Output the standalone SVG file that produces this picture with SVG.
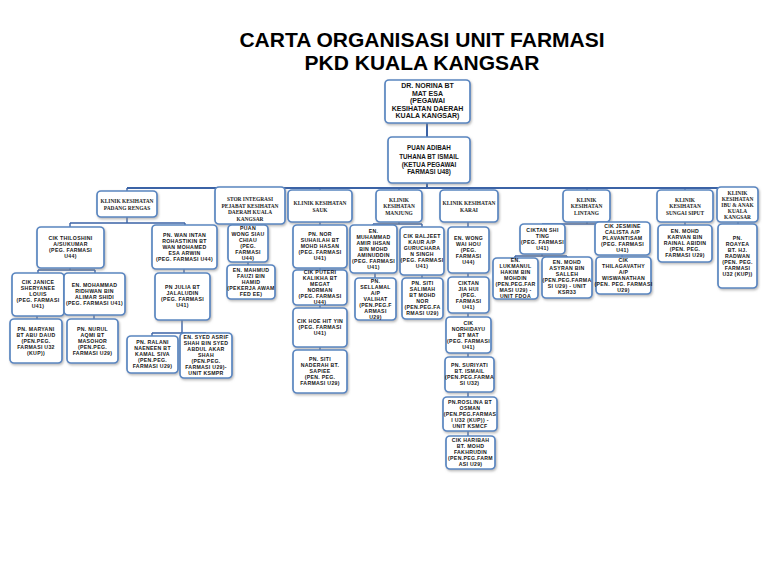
<svg xmlns="http://www.w3.org/2000/svg" width="768" height="576" viewBox="0 0 768 576">
<style>
.box{fill:#fff;stroke:#5a86c0;stroke-width:1.7;filter:url(#sh)}
.t{font-family:"Liberation Sans",Arial,sans-serif;font-weight:bold;font-size:5.2px;letter-spacing:0.3px;text-anchor:middle;fill:#151515}
.h{font-family:"Liberation Serif","Times New Roman",serif;font-weight:bold;font-size:5.4px;text-anchor:middle;fill:#222}
.top{font-family:"Liberation Sans",Arial,sans-serif;font-weight:bold;text-anchor:middle;fill:#151515}
.title{font-family:"Liberation Sans",Arial,sans-serif;font-weight:bold;font-size:21px;text-anchor:middle;fill:#000}
.c{stroke:#3b63a6;stroke-width:1.4;fill:none}
.bar{stroke:#3b63a6;stroke-width:2;fill:none}
</style>
<defs>
<filter id="sh" x="-10%" y="-10%" width="130%" height="130%">
<feDropShadow dx="1" dy="1.5" stdDeviation="0.8" flood-color="#888" flood-opacity="0.6"/>
</filter>
</defs>
<rect width="768" height="576" fill="#fff"/>
<text class="title" x="422" y="47">CARTA ORGANISASI UNIT FARMASI</text>
<text class="title" x="422" y="70">PKD KUALA KANGSAR</text>

<g id="connectors">
<path class="bar" d="M427,123V137M427,183V188M127,188H738"/>
<path class="c" d="M127,188V191M250,188V187M320,188V190M399,188V190M469,188V190M587,188V190M685,188V190M738,188V189"/>
<path class="c" d="M127,217V223M70,223H185M70,223V227M185,223V225"/>
<path class="c" d="M70,268V270M38,270H95M38,270V273M95,270V273M37,316V319M94,315V319"/>
<path class="c" d="M184,269V273M182,320V333M152,333H206M152,333V336M206,333V333"/>
<path class="c" d="M250,224V225M248,262V265"/>
<path class="c" d="M320,222V225M320,268V270M320,305V308M320,347V350"/>
<path class="c" d="M399,222V224M373,224H422M373,224V225M422,224V227M375,273V278M422,275V278"/>
<path class="c" d="M468,222V436"/>
<path class="c" d="M587,222V224M542,224H622M542,224V224M622,224V222M542,254V256M515,256H567M515,256V258M567,256V257M622,255V257"/>
<path class="c" d="M685,222V225M738,222V224"/>
</g>

<g id="norina"><rect class="box" x="385" y="80" width="85" height="43" rx="4"/>
<text class="top" font-size="7" x="427.5" y="88"><tspan x="427.5">DR. NORINA BT</tspan><tspan x="427.5" dy="7.5">MAT ESA</tspan><tspan x="427.5" dy="7.5">(PEGAWAI</tspan><tspan x="427.5" dy="7.5">KESIHATAN DAERAH</tspan><tspan x="427.5" dy="7.5">KUALA KANGSAR)</tspan></text></g>

<g id="adibah"><rect class="box" x="388" y="137" width="82" height="46" rx="4"/>
<text class="top" font-size="6.3" x="429" y="150"><tspan x="429">PUAN ADIBAH</tspan><tspan x="429" dy="8.5">TUHANA BT ISMAIL</tspan><tspan x="429" dy="8.5">(KETUA PEGAWAI</tspan><tspan x="429" dy="7">FARMASI U48)</tspan></text></g>

<g id="h-padang"><rect class="box" x="97" y="191" width="60" height="26" rx="4"/>
<text class="h" x="127" y="203"><tspan x="127">KLINIK KESIHATAN</tspan><tspan x="127" dy="7">PADANG RENGAS</tspan></text></g>
<g id="h-stor"><rect class="box" x="215" y="187" width="70" height="37" rx="4"/>
<text class="h" x="250" y="201"><tspan x="250">STOR INTEGRASI</tspan><tspan x="250" dy="6.5">PEJABAT KESIHATAN</tspan><tspan x="250" dy="6.5">DAERAH KUALA</tspan><tspan x="250" dy="6.5">KANGSAR</tspan></text></g>
<g id="h-sauk"><rect class="box" x="288" y="190" width="64" height="32" rx="4"/>
<text class="h" x="320" y="205"><tspan x="320">KLINIK KESIHATAN</tspan><tspan x="320" dy="6.5">SAUK</tspan></text></g>
<g id="h-manjung"><rect class="box" x="376" y="190" width="46" height="32" rx="4"/>
<text class="h" x="399" y="202"><tspan x="399">KLINIK</tspan><tspan x="399" dy="6.3">KESIHATAN</tspan><tspan x="399" dy="6.3">MANJUNG</tspan></text></g>
<g id="h-karai"><rect class="box" x="440" y="190" width="58" height="32" rx="4"/>
<text class="h" x="469" y="205"><tspan x="469">KLINIK KESIHATAN</tspan><tspan x="469" dy="6.5">KARAI</tspan></text></g>
<g id="h-lintang"><rect class="box" x="563" y="190" width="47" height="32" rx="4"/>
<text class="h" x="586.5" y="202"><tspan x="586.5">KLINIK</tspan><tspan x="586.5" dy="6.3">KESIHATAN</tspan><tspan x="586.5" dy="6.3">LINTANG</tspan></text></g>
<g id="h-sungai"><rect class="box" x="657" y="190" width="56" height="32" rx="4"/>
<text class="h" x="685" y="202"><tspan x="685">KLINIK</tspan><tspan x="685" dy="6.3">KESIHATAN</tspan><tspan x="685" dy="6.3">SUNGAI SIPUT</tspan></text></g>
<g id="h-ibu"><rect class="box" x="717" y="187" width="41" height="35" rx="4"/>
<text class="h" x="737.5" y="195"><tspan x="737.5">KLINIK</tspan><tspan x="737.5" dy="6">KESIHATAN</tspan><tspan x="737.5" dy="6">IBU &amp; ANAK</tspan><tspan x="737.5" dy="6">KUALA</tspan><tspan x="737.5" dy="6">KANGSAR</tspan></text></g>

<g id="thiloshini"><rect class="box" x="37" y="227" width="67" height="41" rx="4"/>
<text class="t" x="70.5" y="240.3"><tspan x="70.5">CIK THILOSHINI</tspan><tspan x="70.5" dy="6">A/SUKUMAR</tspan><tspan x="70.5" dy="6">(PEG. FARMASI</tspan><tspan x="70.5" dy="6">U44)</tspan></text></g>
<g id="janice"><rect class="box" x="12" y="273" width="52" height="43" rx="4"/>
<text class="t" x="38" y="284.3"><tspan x="38">CIK JANICE</tspan><tspan x="38" dy="6">SHERYANEE</tspan><tspan x="38" dy="6">LOUIS</tspan><tspan x="38" dy="6">(PEG. FARMASI</tspan><tspan x="38" dy="6">U41)</tspan></text></g>
<g id="ridhwan"><rect class="box" x="64" y="273" width="61" height="42" rx="4"/>
<text class="t" x="94.5" y="286.8"><tspan x="94.5">EN. MOHAMMAD</tspan><tspan x="94.5" dy="6">RIDHWAN BIN</tspan><tspan x="94.5" dy="6">ALIMAR SHIDI</tspan><tspan x="94.5" dy="6">(PEG. FARMASI U41)</tspan></text></g>
<g id="maryani"><rect class="box" x="10" y="319" width="52" height="44" rx="4"/>
<text class="t" x="36" y="330.8"><tspan x="36">PN. MARYANI</tspan><tspan x="36" dy="6">BT ABU DAUD</tspan><tspan x="36" dy="6">(PEN.PEG.</tspan><tspan x="36" dy="6">FARMASI U32</tspan><tspan x="36" dy="6">(KUP))</tspan></text></g>
<g id="nurul"><rect class="box" x="67" y="319" width="51" height="44" rx="4"/>
<text class="t" x="92.5" y="330.8"><tspan x="92.5">PN. NURUL</tspan><tspan x="92.5" dy="6">AQMI BT</tspan><tspan x="92.5" dy="6">MASOHOR</tspan><tspan x="92.5" dy="6">(PEN.PEG.</tspan><tspan x="92.5" dy="6">FARMASI U29)</tspan></text></g>
<g id="wanintan"><rect class="box" x="152" y="225" width="65" height="44" rx="4"/>
<text class="t" x="184.5" y="236.8"><tspan x="184.5">PN. WAN INTAN</tspan><tspan x="184.5" dy="6">ROHASTIKIN BT</tspan><tspan x="184.5" dy="6">WAN MOHAMED</tspan><tspan x="184.5" dy="6">ESA ARWIN</tspan><tspan x="184.5" dy="6">(PEG. FARMASI U44)</tspan></text></g>
<g id="julia"><rect class="box" x="155" y="273" width="55" height="47" rx="4"/>
<text class="t" x="182.5" y="289.3"><tspan x="182.5">PN JULIA BT</tspan><tspan x="182.5" dy="6">JALALUDIN</tspan><tspan x="182.5" dy="6">(PEG. FARMASI</tspan><tspan x="182.5" dy="6">U41)</tspan></text></g>
<g id="ralani"><rect class="box" x="127" y="336" width="51" height="37" rx="4"/>
<text class="t" x="152.5" y="344.3"><tspan x="152.5">PN. RALANI</tspan><tspan x="152.5" dy="6">NAENEEN BT</tspan><tspan x="152.5" dy="6">KAMAL SIVA</tspan><tspan x="152.5" dy="6">(PEN.PEG.</tspan><tspan x="152.5" dy="6">FARMASI U29)</tspan></text></g>
<g id="syed"><rect class="box" x="180" y="333" width="52" height="45" rx="4"/>
<text class="t" x="206" y="339.3"><tspan x="206">EN. SYED ASRIF</tspan><tspan x="206" dy="6">SHAH BIN SYED</tspan><tspan x="206" dy="6">ABDUL AKAR</tspan><tspan x="206" dy="6">SHAH</tspan><tspan x="206" dy="6">(PEN.PEG.</tspan><tspan x="206" dy="6">FARMASI U29)-</tspan><tspan x="206" dy="6">UNIT KSMPR</tspan></text></g>

<g id="wongsiau"><rect class="box" x="228" y="225" width="40" height="37" rx="4"/>
<text class="t" x="248" y="230.3"><tspan x="248">PUAN</tspan><tspan x="248" dy="6">WONG SIAU</tspan><tspan x="248" dy="6">CHIAU</tspan><tspan x="248" dy="6">(PEG.</tspan><tspan x="248" dy="6">FARMASI</tspan><tspan x="248" dy="6">U44)</tspan></text></g>
<g id="mahmud"><rect class="box" x="227" y="265" width="48" height="34" rx="4"/>
<text class="t" x="251" y="271.8"><tspan x="251">EN. MAHMUD</tspan><tspan x="251" dy="6">FAUZI BIN</tspan><tspan x="251" dy="6">HAMID</tspan><tspan x="251" dy="6">(PEKERJA AWAM</tspan><tspan x="251" dy="6">FED EE)</tspan></text></g>

<g id="norsuhailah"><rect class="box" x="293" y="225" width="54" height="43" rx="4"/>
<text class="t" x="320" y="236.3"><tspan x="320">PN. NOR</tspan><tspan x="320" dy="6">SUHAILAH BT</tspan><tspan x="320" dy="6">MOHD HASAN</tspan><tspan x="320" dy="6">(PEG. FARMASI</tspan><tspan x="320" dy="6">U41)</tspan></text></g>
<g id="puteri"><rect class="box" x="293" y="270" width="54" height="35" rx="4"/>
<text class="t" x="320" y="274.3"><tspan x="320">CIK PUTERI</tspan><tspan x="320" dy="6">KALIKHA BT</tspan><tspan x="320" dy="6">MEGAT</tspan><tspan x="320" dy="6">NORMAN</tspan><tspan x="320" dy="6">(PEG. FARMASI</tspan><tspan x="320" dy="6">U44)</tspan></text></g>
<g id="hoe"><rect class="box" x="293" y="308" width="54" height="39" rx="4"/>
<text class="t" x="320" y="323.3"><tspan x="320">CIK HOE HIT YIN</tspan><tspan x="320" dy="6">(PEG. FARMASI</tspan><tspan x="320" dy="6">U41)</tspan></text></g>
<g id="naderah"><rect class="box" x="293" y="350" width="54" height="43" rx="4"/>
<text class="t" x="320" y="361.3"><tspan x="320">PN. SITI</tspan><tspan x="320" dy="6">NADERAH BT.</tspan><tspan x="320" dy="6">SAPIEE</tspan><tspan x="320" dy="6">(PEN. PEG.</tspan><tspan x="320" dy="6">FARMASI U29)</tspan></text></g>

<g id="amir"><rect class="box" x="350" y="225" width="47" height="48" rx="4"/>
<text class="t" x="373.5" y="232.8"><tspan x="373.5">EN.</tspan><tspan x="373.5" dy="6">MUHAMMAD</tspan><tspan x="373.5" dy="6">AMIR IHSAN</tspan><tspan x="373.5" dy="6">BIN MOHD</tspan><tspan x="373.5" dy="6">AMINUDDIN</tspan><tspan x="373.5" dy="6">(PEG. FARMASI</tspan><tspan x="373.5" dy="6">U41)</tspan></text></g>
<g id="baljeet"><rect class="box" x="400" y="227" width="44" height="48" rx="4"/>
<text class="t" x="422" y="237.8"><tspan x="422">CIK BALJEET</tspan><tspan x="422" dy="6">KAUR A/P</tspan><tspan x="422" dy="6">GURUCHARA</tspan><tspan x="422" dy="6">N SINGH</tspan><tspan x="422" dy="6">(PEG. FARMASI</tspan><tspan x="422" dy="6">U41)</tspan></text></g>
<g id="sellamal"><rect class="box" x="355" y="278" width="41" height="42" rx="4"/>
<text class="t" x="375.5" y="282.8"><tspan x="375.5">PN.</tspan><tspan x="375.5" dy="6">SELLAMAL</tspan><tspan x="375.5" dy="6">A/P</tspan><tspan x="375.5" dy="6">VALIHAT</tspan><tspan x="375.5" dy="6">(PEN.PEG.F</tspan><tspan x="375.5" dy="6">ARMASI</tspan><tspan x="375.5" dy="6">U29)</tspan></text></g>
<g id="salimah"><rect class="box" x="402" y="278" width="41" height="41" rx="4"/>
<text class="t" x="422.5" y="285.3"><tspan x="422.5">PN. SITI</tspan><tspan x="422.5" dy="6">SALIMAH</tspan><tspan x="422.5" dy="6">BT MOHD</tspan><tspan x="422.5" dy="6">NOR</tspan><tspan x="422.5" dy="6">(PEN.PEG.FA</tspan><tspan x="422.5" dy="6">RMASI U29)</tspan></text></g>

<g id="wongwaihou"><rect class="box" x="448" y="227" width="41" height="46" rx="4"/>
<text class="t" x="468.5" y="239.8"><tspan x="468.5">EN. WONG</tspan><tspan x="468.5" dy="6">WAI HOU</tspan><tspan x="468.5" dy="6">(PEG.</tspan><tspan x="468.5" dy="6">FARMASI</tspan><tspan x="468.5" dy="6">U44)</tspan></text></g>
<g id="tanjiahui"><rect class="box" x="448" y="277" width="41" height="36" rx="4"/>
<text class="t" x="468.5" y="284.8"><tspan x="468.5">CIKTAN</tspan><tspan x="468.5" dy="6">JIA HUI</tspan><tspan x="468.5" dy="6">(PEG.</tspan><tspan x="468.5" dy="6">FARMASI</tspan><tspan x="468.5" dy="6">U41)</tspan></text></g>
<g id="norhidayu"><rect class="box" x="446" y="317" width="45" height="36" rx="4"/>
<text class="t" x="468.5" y="324.8"><tspan x="468.5">CIK</tspan><tspan x="468.5" dy="6">NORHIDAYU</tspan><tspan x="468.5" dy="6">BT MAT</tspan><tspan x="468.5" dy="6">(PEG. FARMASI</tspan><tspan x="468.5" dy="6">U41)</tspan></text></g>
<g id="suriyati"><rect class="box" x="445" y="357" width="49" height="35" rx="4"/>
<text class="t" x="469.5" y="367.3"><tspan x="469.5">PN. SURIYATI</tspan><tspan x="469.5" dy="6">BT. ISMAIL</tspan><tspan x="469.5" dy="6">(PEN.PEG.FARMA</tspan><tspan x="469.5" dy="6">SI U32)</tspan></text></g>
<g id="roslina"><rect class="box" x="443" y="397" width="54" height="34" rx="4"/>
<text class="t" x="470" y="403.8"><tspan x="470">PN.ROSLINA BT</tspan><tspan x="470" dy="6">OSMAN</tspan><tspan x="470" dy="6">(PEN.PEG.FARMAS</tspan><tspan x="470" dy="6">I U32 (KUP)) -</tspan><tspan x="470" dy="6">UNIT KSMCF</tspan></text></g>
<g id="haribah"><rect class="box" x="446" y="436" width="49" height="33" rx="4"/>
<text class="t" x="470.5" y="442.3"><tspan x="470.5">CIK HARIBAH</tspan><tspan x="470.5" dy="6">BT. MOHD</tspan><tspan x="470.5" dy="6">FAKHRUDIN</tspan><tspan x="470.5" dy="6">(PEN.PEG.FARM</tspan><tspan x="470.5" dy="6">ASI U29)</tspan></text></g>

<g id="tanshiting"><rect class="box" x="520" y="224" width="45" height="30" rx="4"/>
<text class="t" x="542.5" y="231.8"><tspan x="542.5">CIKTAN SHI</tspan><tspan x="542.5" dy="6">TING</tspan><tspan x="542.5" dy="6">(PEG. FARMASI</tspan><tspan x="542.5" dy="6">U41)</tspan></text></g>
<g id="jesmine"><rect class="box" x="595" y="222" width="55" height="33" rx="4"/>
<text class="t" x="622.5" y="228.3"><tspan x="622.5">CIK JESMINE</tspan><tspan x="622.5" dy="6">CALISTA A/P</tspan><tspan x="622.5" dy="6">PLAVANTISAM</tspan><tspan x="622.5" dy="6">(PEG. FARMASI</tspan><tspan x="622.5" dy="6">U41)</tspan></text></g>
<g id="lukmanul"><rect class="box" x="493" y="258" width="45" height="41" rx="4"/>
<text class="t" x="515.5" y="262.3"><tspan x="515.5">EN.</tspan><tspan x="515.5" dy="6">LUKMANUL</tspan><tspan x="515.5" dy="6">HAKIM BIN</tspan><tspan x="515.5" dy="6">MOHDIN</tspan><tspan x="515.5" dy="6">(PEN.PEG.FAR</tspan><tspan x="515.5" dy="6">MASI U29) -</tspan><tspan x="515.5" dy="6">UNIT FDOA</tspan></text></g>
<g id="asyran"><rect class="box" x="542" y="257" width="50" height="41" rx="4"/>
<text class="t" x="567" y="264.3"><tspan x="567">EN. MOHD</tspan><tspan x="567" dy="6">ASYRAN BIN</tspan><tspan x="567" dy="6">SALLEH</tspan><tspan x="567" dy="6">(PEN.PEG.FARMA</tspan><tspan x="567" dy="6">SI U29) - UNIT</tspan><tspan x="567" dy="6">KSR33</tspan></text></g>
<g id="thilagavathy"><rect class="box" x="596" y="257" width="55" height="37" rx="4"/>
<text class="t" x="623.5" y="262.3"><tspan x="623.5">CIK</tspan><tspan x="623.5" dy="6">THILAGAVATHY</tspan><tspan x="623.5" dy="6">A/P</tspan><tspan x="623.5" dy="6">WISWANATHAN</tspan><tspan x="623.5" dy="6">(PEN. PEG. FARMASI</tspan><tspan x="623.5" dy="6">U29)</tspan></text></g>

<g id="karvan"><rect class="box" x="658" y="225" width="54" height="37" rx="4"/>
<text class="t" x="685" y="233.3"><tspan x="685">EN. MOHD</tspan><tspan x="685" dy="6">KARVAN BIN</tspan><tspan x="685" dy="6">RAINAL ABIDIN</tspan><tspan x="685" dy="6">(PEN. PEG.</tspan><tspan x="685" dy="6">FARMASI U29)</tspan></text></g>
<g id="roayea"><rect class="box" x="718" y="224" width="39" height="64" rx="4"/>
<text class="t" x="737.5" y="239.8"><tspan x="737.5">PN.</tspan><tspan x="737.5" dy="6">ROAYEA</tspan><tspan x="737.5" dy="6">BT. HJ.</tspan><tspan x="737.5" dy="6">RADWAN</tspan><tspan x="737.5" dy="6">(PEN. PEG.</tspan><tspan x="737.5" dy="6">FARMASI</tspan><tspan x="737.5" dy="6">U32 (KUP))</tspan></text></g>
</svg>
